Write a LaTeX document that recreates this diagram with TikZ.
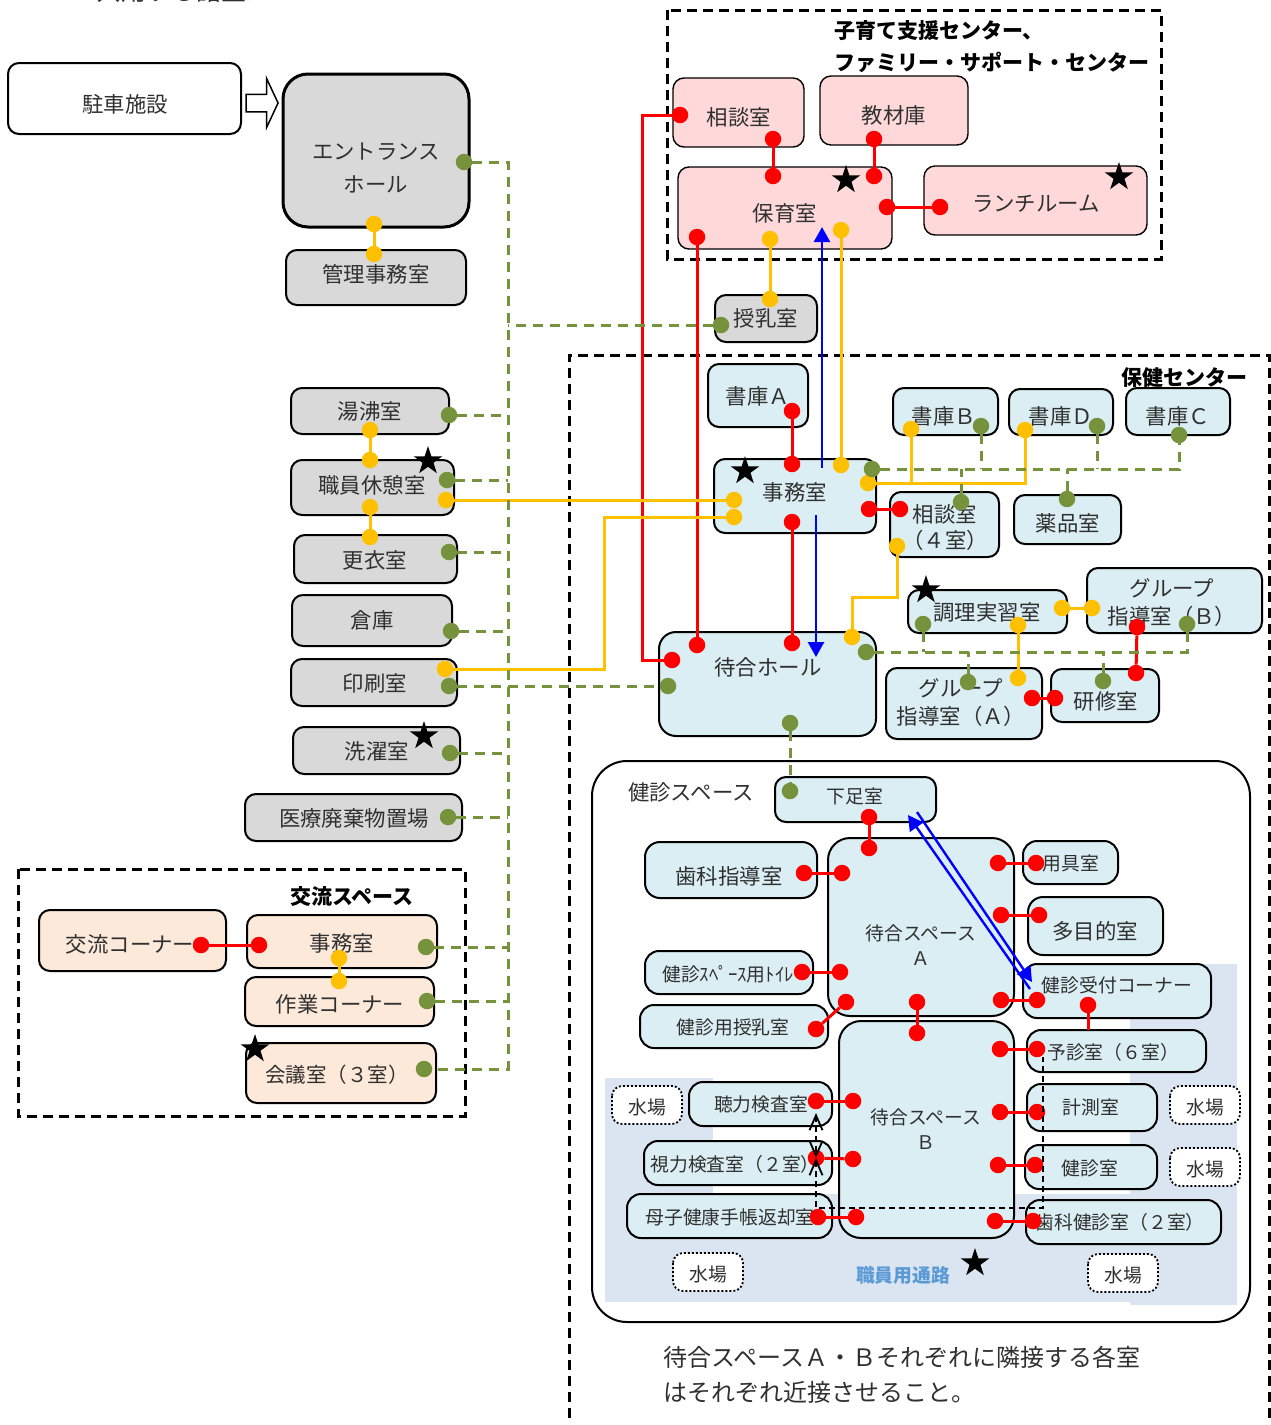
\documentclass[tikz,border=0pt]{standalone}
\usepackage{fontspec}
\setmainfont{Noto Sans CJK JP}
\usepackage{xcolor}
\usetikzlibrary{shapes.geometric,shapes.arrows,arrows.meta,calc}

\definecolor{txtgrey}{HTML}{303030}
\definecolor{roomgrey}{HTML}{D9D9D9}
\definecolor{roomblue}{HTML}{DAEEF3}
\definecolor{roompink}{HTML}{FFD9D9}
\definecolor{roompeach}{HTML}{FDE9D9}
\definecolor{regionblue}{HTML}{DBE5F1}
\definecolor{linkred}{HTML}{FF0000}
\definecolor{linkyellow}{HTML}{FFC000}
\definecolor{linkgreen}{HTML}{76923C}
\definecolor{linkblue}{HTML}{0000FF}
\definecolor{labelblue}{HTML}{5B9BD5}

\tikzset{
	room/.style = {draw=black,line width=2pt,rounded corners=11pt},
	greyroom/.style = {room,fill=roomgrey},
	blueroom/.style = {room,fill=roomblue},
	pinkroom/.style = {room,line width=1.4pt,fill=roompink},
	peachroom/.style = {room,fill=roompeach},
	waterroom/.style = {draw=black,line width=1.8pt,dash pattern=on 2pt off 2pt,fill=white,rounded corners=10pt},
	areabox/.style = {draw=black,line width=3pt,dash pattern=on 10pt off 6pt},
	small/.style = {font=\fontsize{18.8}{25}\selectfont},
	heading/.style = {text=black,font=\fontsize{21}{32}\selectfont\bfseries},
	dot/.style = {circle,minimum size=16.5pt,inner sep=0pt},
	rdot/.style = {dot,fill=linkred},
	ydot/.style = {dot,fill=linkyellow},
	gdot/.style = {dot,fill=linkgreen},
	rline/.style = {draw=linkred,line width=3pt},
	yline/.style = {draw=linkyellow,line width=3pt},
	gline/.style = {draw=linkgreen,line width=3pt,dash pattern=on 10pt off 7pt},
	bline/.style = {draw=linkblue,line width=2.4pt,-{Triangle[length=15pt,width=16pt]}},
	staffline/.style = {draw=black,line width=1.8pt,dash pattern=on 6pt off 4pt},
	staffarrow/.style = {{Straight Barb[length=15pt,width=13pt]}-{Straight Barb[length=15pt,width=13pt]}},
	mark5/.style = {star,star points=5,star point ratio=2.618,fill=black,minimum size=30pt,inner sep=0pt}
}

\begin{document}
\begin{tikzpicture}[
			x = 1pt, y = -1pt,
			every node/.style = {inner sep = 0pt,align = center,text = txtgrey,font = \fontsize{21.4}{30}\selectfont}]
			\useasboundingbox (0,0) rectangle (1271,1425);
			\clip (0,0) rectangle (1271,1425);

			\node[font=\fontsize{25}{30}\selectfont] (title) at (184,-9) {共用する諸室＞};

			% area frames
			\draw[areabox] (667,10) rectangle (1161,259);
			\draw[areabox] (18,869) rectangle (465,1116);
			\draw[areabox] (569,1418) -- (569,355) -- (1269,355) -- (1269,1418);
			\draw[draw=black,line width=2pt,rounded corners=35pt,fill=white] (592,761) rectangle (1250,1322);
			\fill[regionblue] (605,1078) rectangle (713,1194);
			\fill[regionblue] (605,1194) rectangle (1237,1302);
			\fill[regionblue] (1130,964) rectangle (1237,1305);

			\node[heading,anchor=west,align=left] (kosodate) at (834,47) {子育て支援センター、\\ファミリー・サポート・センター};
			\node[heading] (hoken) at (1184,378) {保健センター};
			\node[heading] (koryu) at (352,897) {交流スペース};
			\node (kenshin) at (691,792) {健診スペース};

			% left column
			\draw[room,fill=white] (8,63) rectangle (241,134) (125,104) node (parking) {駐車施設};
			\node[draw=black,line width=1.5pt,fill=white,single arrow,inner ysep=8pt,inner xsep=0pt,single arrow head extend=16pt,single arrow head indent=0pt,
				single arrow tip angle=130,minimum height=32pt] (entryarrow) at (260,103) {};
			\draw[greyroom,line width=3pt,rounded corners=25pt] (283,74) rectangle (469,227) (376,168.5) node[font=\fontsize{21.4}{33}\selectfont] (entrance) {エントランス\\ホール};
			\draw[greyroom] (286,250) rectangle (466,305) (376,274) node (kanri) {管理事務室};
			\draw[greyroom] (291,388) rectangle (449,434) (370,411) node (yusui) {湯沸室};
			\draw[greyroom] (291,460) rectangle (454,515) (372,485) node (kyukei) {職員休憩室};
			\draw[greyroom] (294,535) rectangle (457,583) (375,560) node (koui) {更衣室};
			\draw[greyroom] (292,595) rectangle (452,646) (372,620) node (souko) {倉庫};
			\draw[greyroom] (291,659) rectangle (457,706) (375,683) node (insatsu) {印刷室};
			\draw[greyroom] (293,727) rectangle (460,774) (377,751) node (sentaku) {洗濯室};
			\draw[greyroom] (245,794) rectangle (462,841) (354,818) node (iryo) {医療廃棄物置場};

			% exchange space
			\draw[peachroom] (39,910) rectangle (226,971) (130,944) node (corner) {交流コーナー};
			\draw[peachroom] (247,915) rectangle (437,968) (342,943) node (jimuK) {事務室};
			\draw[peachroom] (245,977) rectangle (434,1026) (340,1004) node (sagyo) {作業コーナー};
			\draw[peachroom] (246,1043) rectangle (436,1103) (337,1075) node[font=\fontsize{20.5}{28}\selectfont] (kaigi) {会議室（３室）};

			% child care centre
			\draw[pinkroom] (673,78) rectangle (804,147) (739,117) node (soudanP) {相談室};
			\draw[pinkroom] (820,76) rectangle (968,145) (894,115) node (kyozai) {教材庫};
			\draw[pinkroom] (678,167) rectangle (892,249) (785,213) node (hoiku) {保育室};
			\draw[pinkroom] (924,166) rectangle (1147,235) (1036,204) node (lunch) {ランチルーム};
			\draw[greyroom] (715,295) rectangle (817,342) (766,318) node (junyu) {授乳室};

			% health centre
			\draw[blueroom] (708,364) rectangle (808,427) (758,396) node (shokoA) {書庫Ａ};
			\draw[blueroom] (893,388) rectangle (998,435) (944,416) node (shokoB) {書庫Ｂ};
			\draw[blueroom] (1009,389) rectangle (1113,435) (1061,416) node (shokoD) {書庫Ｄ};
			\draw[blueroom] (1126,388) rectangle (1230,435) (1178,416) node (shokoC) {書庫Ｃ};
			\draw[blueroom] (714,459) rectangle (876,533) (795,492) node (jimuH) {事務室};
			\draw[blueroom] (890,492) rectangle (999,557) (945,528) node[font=\fontsize{21.4}{26}\selectfont] (soudanH) {相談室\\（４室）};
			\draw[blueroom] (1014,495) rectangle (1121,544) (1068,523) node (yakuhin) {薬品室};
			\draw[blueroom] (908,590) rectangle (1067,633) (987,612) node (chouri) {調理実習室};
			\draw[blueroom] (1087,568) rectangle (1262,633) (1172,603) node[font=\fontsize{21.4}{28}\selectfont] (groupB) {グループ\\指導室（Ｂ）};
			\draw[blueroom,rounded corners=17pt] (659,632) rectangle (876,736) (768,667) node (hall) {待合ホール};
			\draw[blueroom] (886,668) rectangle (1042,739) (961,703) node[font=\fontsize{21.4}{28}\selectfont] (groupA) {グループ\\指導室（Ａ）};
			\draw[blueroom] (1051,669) rectangle (1159,722) (1106,701) node (kenshu) {研修室};

			% examination space
			\draw[blueroom] (775,777) rectangle (936,822) (855,796) node[small] (gesoku) {下足室};
			\draw[blueroom,rounded corners=22pt] (828,838) rectangle (1014,1016) (921,945) node[small] (waitA) {待合スペース\\Ａ};
			\draw[blueroom,rounded corners=22pt] (839,1021) rectangle (1014,1238) (926,1129) node[small] (waitB) {待合スペース\\Ｂ};
			\draw[blueroom,rounded corners=15pt] (645,842) rectangle (817,898) (729,876) node (shikaS) {歯科指導室};
			\draw[blueroom,rounded corners=14pt] (1023,841) rectangle (1118,884) (1071,863) node[small] (yogu) {用具室};
			\draw[blueroom,rounded corners=15pt] (1028,897) rectangle (1163,955) (1095,931) node (tamoku) {多目的室};
			\draw[blueroom,rounded corners=14pt] (645,951) rectangle (813,994) (728,974) node[small] (toilet) {健診ｽﾍﾟｰｽ用ﾄｲﾚ};
			\draw[blueroom,rounded corners=14pt] (640,1005) rectangle (828,1048) (733,1027) node[small] (junyuK) {健診用授乳室};
			\draw[blueroom,rounded corners=14pt] (1023,964) rectangle (1211,1018) (1117,985) node[small] (uketsuke) {健診受付コーナー};
			\draw[blueroom,rounded corners=14pt] (1027,1030) rectangle (1206,1072) (1113,1052) node[small] (yoshin) {予診室（６室）};
			\draw[blueroom,rounded corners=14pt] (689,1082) rectangle (832,1126) (761,1104) node[small] (choryoku) {聴力検査室};
			\draw[blueroom,rounded corners=14pt] (644,1141) rectangle (832,1185) (735,1164) node[small] (shiryoku) {視力検査室（２室）};
			\draw[blueroom,rounded corners=14pt] (627,1194) rectangle (832,1238) (730,1217) node[small] (techo) {母子健康手帳返却室};
			\draw[blueroom,rounded corners=14pt] (1027,1084) rectangle (1157,1131) (1091,1107) node[small] (keisoku) {計測室};
			\draw[blueroom,rounded corners=14pt] (1025,1145) rectangle (1157,1189) (1090,1168) node[small] (kenshinR) {健診室};
			\draw[blueroom,rounded corners=14pt] (1026,1200) rectangle (1221,1244) (1120,1222) node[small] (shikaK) {歯科健診室（２室）};

			\draw[waterroom] (612,1086) rectangle (682,1124) (647,1107) node[small] (mizu1) {水場};
			\draw[waterroom] (1170,1086) rectangle (1240,1124) (1205,1107) node[small] (mizu2) {水場};
			\draw[waterroom] (1170,1148) rectangle (1240,1186) (1205,1169) node[small] (mizu3) {水場};
			\draw[waterroom] (673,1253) rectangle (743,1291) (708,1274) node[small] (mizu4) {水場};
			\draw[waterroom] (1088,1254) rectangle (1158,1292) (1123,1275) node[small] (mizu5) {水場};

			\node[text=labelblue,font=\fontsize{18.8}{25}\selectfont\bfseries] (staffway) at (903,1275) {職員用通路};
			\node[anchor=west,align=left,font=\fontsize{24}{35}\selectfont] (note) at (663,1375) {待合スペースＡ・Ｂそれぞれに隣接する各室\\はそれぞれ近接させること。};

			% connection dots
			\foreach \n/\x/\y in {soudanR1/680/115,soudanR2/773/139,kyozaiR/874/139,hoikuR1/773/176,hoikuR2/874/176,hoikuR3/887/207,hoikuR4/697/237,lunchR/940/207,
				shokoAR/792/411,jimuR1/792/464,jimuR2/792/522,jimuR3/869/509,soudanHR/900/509,hallR1/697/645,hallR2/672/660,hallR3/792/643,
				groupBR/1137/627,kenshuR1/1136/673,groupAR/1032/698,kenshuR2/1055/698,cornerR/201/945,jimuKR/259/945,
				gesokuR/869/817,waitAR1/869/848,shikaSR/804/873,waitAR2/842/873,yoguR/1036/863,waitAR3/998/863,tamokuR/1039/915,waitAR4/1001/915,
				toiletR/802/972,waitAR5/840/972,junyuKR/816/1029,waitAR6/846/1002,waitAR7/917/1002,waitBR1/917/1033,waitAR8/1001/1000,uketsukeR1/1037/1000,
				uketsukeR2/1088/1005,waitBR2/1000/1049,yoshinR/1037/1049,waitBR3/1000/1112,keisokuR/1037/1112,waitBR4/998/1165,kenshinRR/1035/1165,
				waitBR5/995/1221,shikaKR/1033/1221,choryokuR/816/1101,waitBR6/853/1101,shiryokuR/816/1158,waitBR7/853/1159,techoR/818/1217,waitBR8/856/1217}
				\node[rdot] (\n) at (\x,\y) {};
			\foreach \n/\x/\y in {entranceY/374/224,kanriY/374/254,yusuiY/370/430,kyukeiY1/370/460,kyukeiY2/370/507,kyukeiY3/446/500,kouiY/370/537,insatsuY/445/669,
				hoikuY1/770/239,hoikuY2/841/230,junyuY/770/299,jimuY1/841/465,jimuY2/868/483,jimuY3/734/500,jimuY4/734/517,
				shokoBY/911/429,shokoDY/1025/430,soudanHY/897/546,hallY/852/637,chouriY1/1018/625,chouriY2/1062/608,groupBY/1092/608,groupAY/1018/678,
				jimuKY/339/958,sagyoY/339/981}
				\node[ydot] (\n) at (\x,\y) {};
			\foreach \n/\x/\y in {entranceG/464/162,junyuG/721/325,yusuiG/449/415,kyukeiG/447/480,kouiG/449/552,soukoG/451/631,insatsuG/449/686,sentakuG/450/753,iryoG/448/817,
				jimuKG/426/947,sagyoG/427/1001,kaigiG/424/1069,hallG1/668/686,hallG2/866/652,hallG3/790/723,gesokuG/790/791,
				jimuG/872/469,shokoBG/981/426,shokoDG/1097/426,shokoCG/1179/435,soudanHG/961/502,yakuhinG/1067/499,
				chouriG/923/624,groupBG/1187/624,groupAG/968/682,kenshuG/1103/681}
				\node[gdot] (\n) at (\x,\y) {};

			\coordinate (gtrunk) at (508,0);

			% red links
			\draw[rline] (soudanR2) -- (hoikuR1);
			\draw[rline] (kyozaiR) -- (hoikuR2);
			\draw[rline] (hoikuR3) -- (lunchR);
			\coordinate (rturn1) at (642,115);
			\coordinate (rturn2) at (642,660);
			\draw[rline] (soudanR1) -- (rturn1) -- (rturn2) -- (hallR2);
			\draw[rline] (hoikuR4) -- (hallR1);
			\draw[rline] (shokoAR) -- (jimuR1);
			\draw[rline] (jimuR2) -- (hallR3);
			\draw[rline] (jimuR3) -- (soudanHR);
			\draw[rline] (groupBR) -- (kenshuR1);
			\draw[rline] (groupAR) -- (kenshuR2);
			\draw[rline] (cornerR) -- (jimuKR);
			\coordinate (yoshinTop) at (1088,1030);
			\draw[rline] (uketsukeR2) -- (yoshinTop);
			\foreach \a/\b in {gesokuR/waitAR1,shikaSR/waitAR2,yoguR/waitAR3,tamokuR/waitAR4,toiletR/waitAR5,junyuKR/waitAR6,waitAR7/waitBR1,waitAR8/uketsukeR1,
				waitBR2/yoshinR,waitBR3/keisokuR,waitBR4/kenshinRR,waitBR5/shikaKR,choryokuR/waitBR6,shiryokuR/waitBR7,techoR/waitBR8}
				\draw[rline] (\a) -- (\b);

			% yellow links
			\draw[yline] (entranceY) -- (kanriY);
			\draw[yline] (yusuiY) -- (kyukeiY1);
			\draw[yline] (kyukeiY2) -- (kouiY);
			\draw[yline] (kyukeiY3) -- (jimuY3);
			\coordinate (yturn1) at (604,517);
			\coordinate (yturn2) at (604,669);
			\draw[yline] (jimuY4) -- (yturn1) -- (yturn2) -- (insatsuY);
			\draw[yline] (hoikuY1) -- (junyuY);
			\draw[yline] (hoikuY2) -- (jimuY1);
			\draw[yline] (jimuY2) -- (jimuY2 -| shokoDY) -- (shokoDY);
			\draw[yline] (shokoBY) -- (shokoBY |- jimuY2);
			\coordinate (yturn3) at (897,597);
			\coordinate (yturn4) at (852,597);
			\draw[yline] (soudanHY) -- (yturn3) -- (yturn4) -- (hallY);
			\draw[yline] (chouriY1) -- (groupAY);
			\draw[yline] (chouriY2) -- (groupBY);
			\draw[yline] (jimuKY) -- (sagyoY);

			% green links
			\draw[gline] (entranceG) -- (entranceG -| gtrunk) -- (kaigiG -| gtrunk) -- (kaigiG);
			\foreach \n in {junyuG,yusuiG,kyukeiG,kouiG,soukoG,sentakuG,iryoG,jimuKG,sagyoG}
				\draw[gline] (\n) -- (\n -| gtrunk);
			\draw[gline] (insatsuG) -- (hallG1);
			\draw[gline] (hallG3) -- (gesokuG);
			\draw[gline] (jimuG) -- (jimuG -| shokoCG) -- (shokoCG);
			\foreach \n in {shokoBG,shokoDG,soudanHG,yakuhinG}
				\draw[gline] (\n) -- (\n |- jimuG);
			\draw[gline] (hallG2) -- (hallG2 -| groupBG) -- (groupBG);
			\foreach \n in {chouriG,groupAG,kenshuG}
				\draw[gline] (\n) -- (\n |- hallG2);

			% blue flow arrows
			\coordinate (blueA1) at (822,468);
			\coordinate (blueA2) at (822,227);
			\coordinate (blueB1) at (816,515);
			\coordinate (blueB2) at (816,657);
			\coordinate (blueC1) at (1030,989);
			\coordinate (blueC2) at (908,815);
			\coordinate (blueD1) at (917,812);
			\coordinate (blueD2) at (1032,982);
			\draw[bline] (blueA1) -- (blueA2);
			\draw[bline] (blueB1) -- (blueB2);
			\draw[bline] (blueC1) -- (blueC2);
			\draw[bline] (blueD1) -- (blueD2);

			% staff passage
			\coordinate (staffA) at (816,1113);
			\coordinate (staffB) at (816,1158);
			\coordinate (staffC) at (816,1208);
			\coordinate (staffD) at (1043,1208);
			\coordinate (staffE) at (1043,1057);
			\draw[staffline,staffarrow] (staffA) -- (staffB);
			\draw[staffline,{Straight Barb[length=15pt,width=13pt]}-] (staffB) -- (staffC) -- (staffD) -- (staffE);

			% stars
			\foreach \n/\x/\y in {starHoiku/846/180,starLunch/1119/177,starKyukei/428/461,starSentaku/424/736,starKaigi/255/1049,starJimu/745/471,starChouri/926/590,starWay/975/1263}
				\node[mark5] (\n) at (\x,\y) {};
		\end{tikzpicture}
\end{document}
